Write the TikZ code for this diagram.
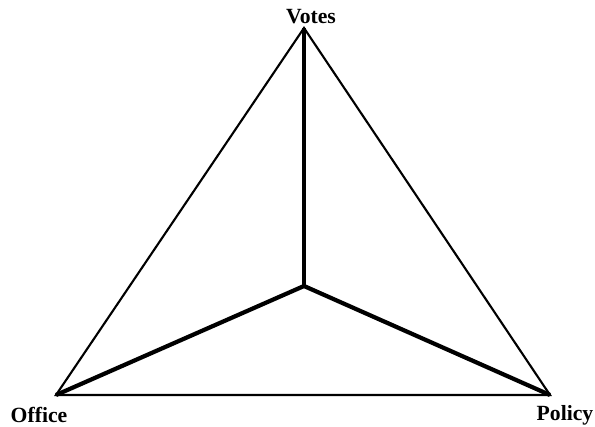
\documentclass[tikz,border=0pt]{standalone}
\usepackage{fontspec}
\setmainfont{Liberation Serif}
\usepackage{tikz}
\usetikzlibrary{positioning}
\tikzset{
  edgeline/.style={line width=1.8pt, line join=miter},
  spoke/.style={line width=3.6pt, line cap=butt},
  vlabel/.style={font=\fontsize{18.5}{20}\selectfont\bfseries, inner sep=0pt}
}

\begin{document}
\begin{tikzpicture}[x=0.03cm, y=-0.03cm]
      \useasboundingbox (0,0) rectangle (595,427);
      \coordinate (votes) at (304,28);
      \coordinate (office) at (56,395);
      \coordinate (policy) at (550,395);
      \coordinate (mid) at (304,286);
      \node[vlabel] (lvotes) at (311,17) {Votes};
      \node[vlabel] (loffice) at (39,415) {Office};
      \node[vlabel] (lpolicy) at (565,415) {Policy};
      \draw[edgeline] (votes) -- (office) -- (policy) -- cycle;
      \draw[spoke] (mid) -- (votes);
      \draw[spoke] (mid) -- (office);
      \draw[spoke] (mid) -- (policy);
    \end{tikzpicture}
\end{document}
